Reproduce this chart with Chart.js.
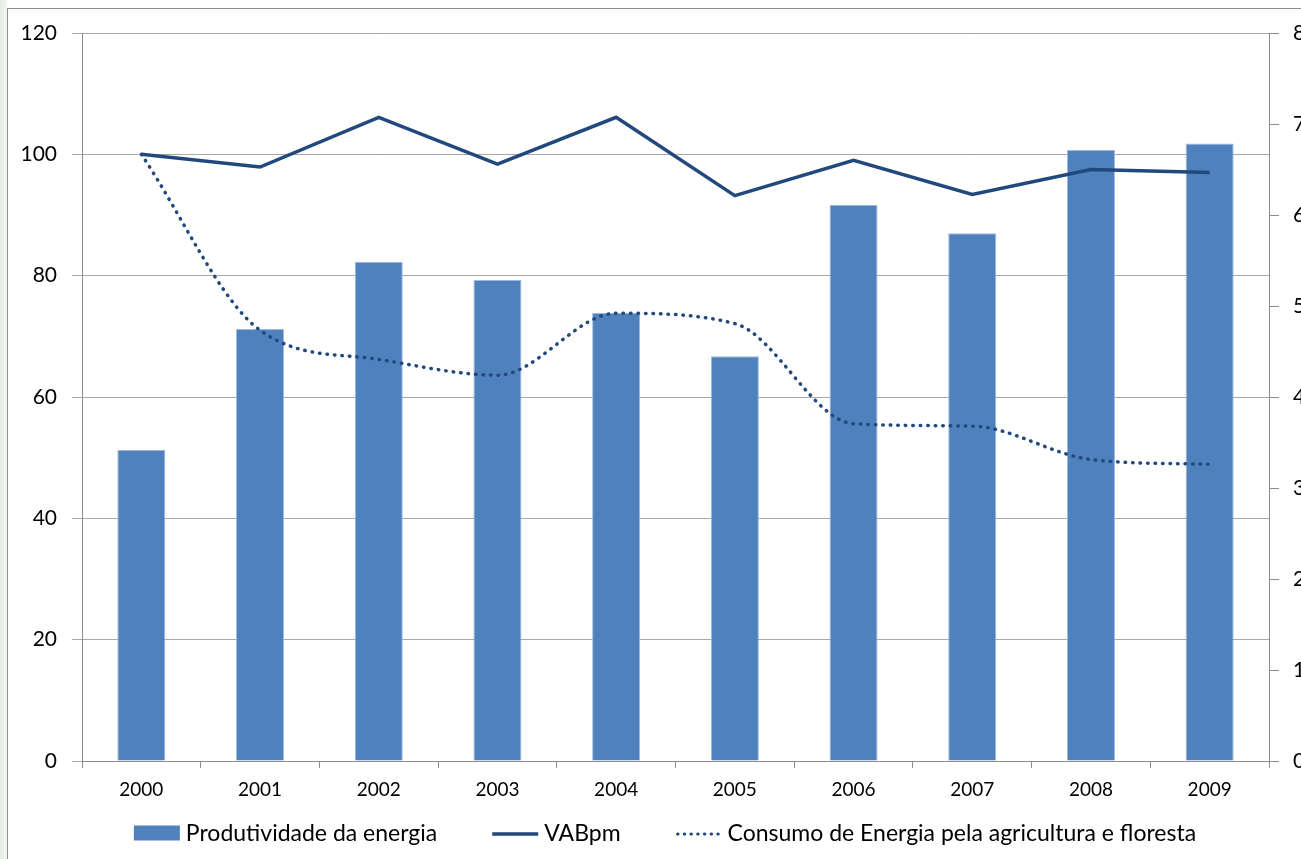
<!DOCTYPE html>
<html>
<head>
<meta charset="utf-8">
<title>Produtividade da energia</title>
<script src="https://cdn.jsdelivr.net/npm/chart.js@4.4.1/dist/chart.umd.min.js"></script>
<style>
  html, body { margin: 0; padding: 0; width: 1301px; height: 859px; overflow: hidden;
    background: linear-gradient(to right, #e6eae6 0px, #f4f6f4 7px, #ffffff 7px); }
  #frame { position: absolute; left: 7px; top: 8px; width: 1310px; height: 870px;
    border-left: 1px solid #8e8e8e; border-top: 1px solid #8e8e8e; background: #ffffff; }
  #wrap { position: absolute; left: 0; top: 0; width: 1301px; height: 859px; }
</style>
</head>
<body>
<div id="frame"></div>
<div id="wrap"><canvas id="chart" width="1301" height="859"></canvas></div>
<script>
// Years on the category axis
const years = ['2000', '2001', '2002', '2003', '2004', '2005', '2006', '2007', '2008', '2009'];

// Series values (index, 2000 = 100 for the two lines)
const produtividade = [51.3, 71.2, 82.3, 79.3, 73.9, 66.7, 91.7, 87.0, 100.7, 101.8];
const vabpm = [100, 97.9, 106.1, 98.4, 106.1, 93.2, 99.0, 93.4, 97.5, 97.0];
const consumo = [100, 71.0, 66.2, 63.6, 73.8, 72.1, 55.6, 55.2, 49.7, 48.9];

// Tick values of the two value axes
const leftTicks = [0, 20, 40, 60, 80, 100, 120];
const rightTicks = [0, 10, 20, 30, 40, 50, 60, 70, 80];

const FONT = "Lato, 'Open Sans', 'Liberation Sans', sans-serif";
const BAR_BLUE = '#4F81BD';
const LINE_BLUE = '#21497D';
const GRID = '#a8a8a8';
const AXIS = '#8c8c8c';

// Legend drawn under the plot: colour sample followed by the series name
const bottomLegend = {
  id: 'bottomLegend',
  afterDraw(chart) {
    const ctx = chart.ctx;
    const sampleW = 46, textGap = 6, itemGap = 55, cy = 833, centerX = 665;
    ctx.save();
    ctx.font = '23px ' + FONT;
    const items = chart.data.datasets.map(ds => ({
      ds, w: sampleW + textGap + ctx.measureText(ds.label).width
    }));
    const total = items.reduce((s, it) => s + it.w, 0) + itemGap * (items.length - 1);
    let x = centerX - total / 2;
    items.forEach(it => {
      const ds = it.ds;
      if (ds.type === 'bar') {
        ctx.fillStyle = ds.backgroundColor;
        ctx.fillRect(x, cy - 7.5, sampleW, 15);
      } else {
        ctx.beginPath();
        ctx.strokeStyle = ds.borderColor;
        ctx.lineWidth = ds.borderDash ? 3 : ds.borderWidth;
        ctx.lineCap = ds.borderCapStyle || 'butt';
        ctx.setLineDash(ds.borderDash ? [0.5, 6.2] : []);
        ctx.moveTo(x + (ds.borderDash ? 2 : 0), cy + 1);
        ctx.lineTo(x + sampleW, cy + 1);
        ctx.stroke();
        ctx.setLineDash([]);
      }
      ctx.fillStyle = '#000000';
      ctx.textAlign = 'left';
      ctx.textBaseline = 'middle';
      ctx.fillText(ds.label, x + sampleW + textGap, cy + 1);
      x += it.w + itemGap;
    });
    ctx.restore();
  }
};

new Chart(document.getElementById('chart'), {
  data: {
    labels: years,
    datasets: [
      {
        type: 'bar',
        label: 'Produtividade da energia',
        data: produtividade,
        backgroundColor: BAR_BLUE,
        borderColor: '#9fbadc',
        borderWidth: 1,
        barPercentage: 0.405,
        categoryPercentage: 1,
        yAxisID: 'y',
        order: 2
      },
      {
        type: 'line',
        label: 'VABpm',
        data: vabpm,
        borderColor: LINE_BLUE,
        backgroundColor: LINE_BLUE,
        borderWidth: 3.5,
        pointRadius: 0,
        tension: 0,
        fill: false,
        yAxisID: 'y',
        order: 1
      },
      {
        type: 'line',
        label: 'Consumo de Energia pela agricultura e floresta',
        data: consumo,
        borderColor: LINE_BLUE,
        backgroundColor: LINE_BLUE,
        borderWidth: 3.5,
        borderDash: [0.5, 7],
        borderCapStyle: 'round',
        pointRadius: 0,
        cubicInterpolationMode: 'monotone',
        fill: false,
        yAxisID: 'y',
        order: 1
      }
    ]
  },
  options: {
    responsive: false,
    animation: false,
    layout: { padding: { left: 0, right: 0, top: 33, bottom: 59 } },
    plugins: {
      legend: { display: false },
      tooltip: { enabled: false }
    },
    scales: {
      x: {
        offset: true,
        grid: { display: true, drawOnChartArea: false, offset: true, tickLength: 7, color: AXIS },
        border: { display: true, color: AXIS },
        ticks: { font: { family: FONT, size: 19 }, color: '#000000', padding: 10 },
        afterFit(s) { s.height = 39; }
      },
      y: {
        position: 'left',
        min: 0,
        max: 120,
        afterBuildTicks(s) { s.ticks = leftTicks.map(v => ({ value: v })); },
        grid: { color: GRID, tickLength: 10 },
        border: { display: true, color: AXIS },
        ticks: { font: { family: FONT, size: 21 }, color: '#000000', padding: 15 },
        afterFit(s) { s.width = 82; }
      },
      y2: {
        position: 'right',
        min: 0,
        max: 80,
        afterBuildTicks(s) { s.ticks = rightTicks.map(v => ({ value: v })); },
        grid: { drawOnChartArea: false, color: AXIS, tickLength: 10 },
        border: { display: true, color: AXIS },
        ticks: { font: { family: FONT, size: 21 }, color: '#000000', padding: 14 },
        afterFit(s) { s.width = 32; }
      }
    }
  },
  plugins: [bottomLegend]
});
</script>
</body>
</html>
